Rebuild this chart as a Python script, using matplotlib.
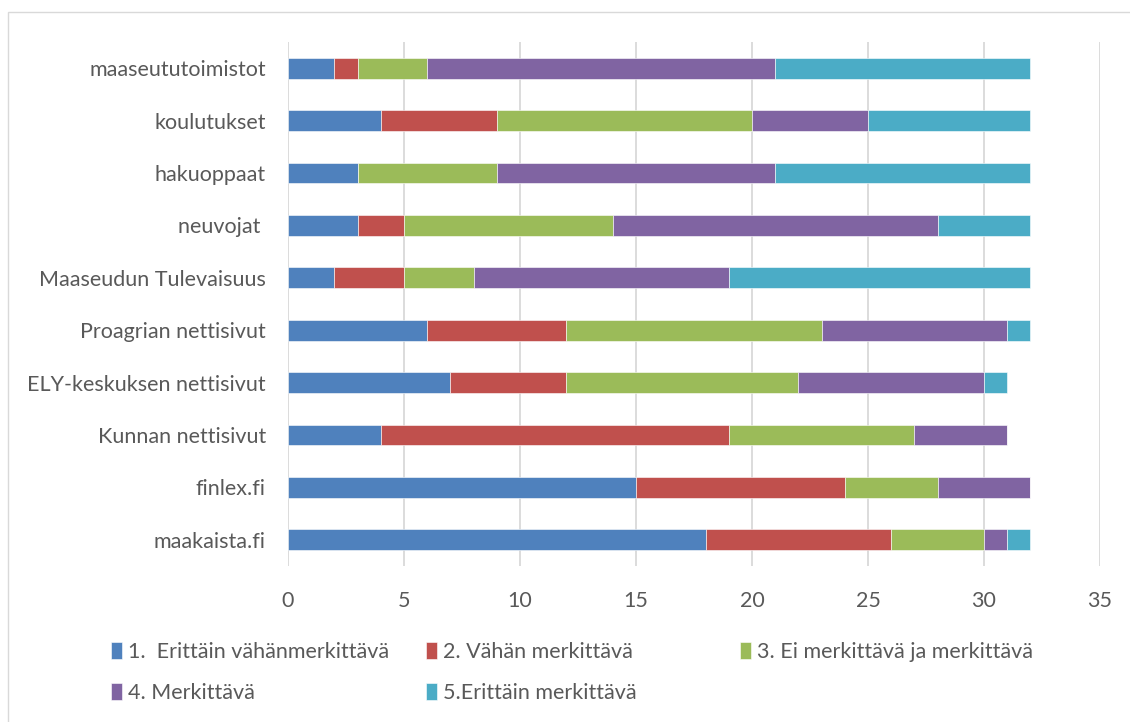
import numpy as np
import matplotlib.pyplot as plt
from matplotlib.patches import Rectangle

plt.rcParams['font.family'] = ['Lato', 'DejaVu Sans']

categories = ['maaseututoimistot', 'koulutukset', 'hakuoppaat', 'neuvojat ',
              'Maaseudun Tulevaisuus', 'Proagrian nettisivut',
              'ELY-keskuksen nettisivut', 'Kunnan nettisivut', 'finlex.fi',
              'maakaista.fi']
series_names = ['1.  Erittäin vähänmerkittävä', '2. Vähän merkittävä',
                '3. Ei merkittävä ja merkittävä', '4. Merkittävä',
                '5.Erittäin merkittävä']
v1 = [2, 4, 3, 3, 2, 6, 7, 4, 15, 18]
v2 = [1, 5, 0, 2, 3, 6, 5, 15, 9, 8]
v3 = [3, 11, 6, 9, 3, 11, 10, 8, 4, 4]
v4 = [15, 5, 12, 14, 11, 8, 8, 4, 4, 1]
v5 = [11, 7, 11, 4, 13, 1, 1, 0, 0, 1]
colors = ['#4F81BD', '#C0504D', '#9BBB59', '#8064A2', '#4BACC6']
xticks = [0, 5, 10, 15, 20, 25, 30, 35]

txt = '#595959'
fs = 15.5
fig = plt.figure(figsize=(11.3, 7.22), dpi=100)
ax = fig.add_axes([288/1130, 1-566/722, (1100-288)/1130, (566-42)/722])

y = np.arange(len(categories))
left = np.zeros(len(categories))
bars = []
for vals, c, name in zip([v1, v2, v3, v4, v5], colors, series_names):
    b = ax.barh(y, vals, left=left, height=0.4, color=c, edgecolor='white',
                linewidth=0.4, label=name, zorder=3)
    bars.append(b)
    left += np.array(vals)

ax.set_ylim(len(categories) - 0.5, -0.5)
ax.set_yticks(y)
ax.set_yticklabels(categories, fontsize=fs, color=txt)
ax.set_xlim(0, 35)
ax.set_xticks(xticks)
ax.set_xticklabels([str(t) for t in xticks], fontsize=fs, color=txt)
ax.tick_params(axis='x', length=0, pad=18)
ax.tick_params(axis='y', length=0, pad=16)
ax.grid(axis='x', color='#D9D9D9', linewidth=1.3, zorder=0)
for s in ax.spines.values():
    s.set_visible(False)

# legend, one entry per slot like Excel does it
slots = [(100, 652), (415, 652), (729, 652), (100, 693), (415, 693)]
for b, name, (px, py) in zip(bars, series_names, slots):
    lg = fig.legend([b], [name], loc='center left',
                    bbox_to_anchor=(px/1130, 1-py/722), frameon=False,
                    fontsize=fs, handlelength=0.5, handleheight=0.8,
                    handletextpad=0.3, borderpad=0)
    for t in lg.get_texts():
        t.set_color(txt)

fig.add_artist(Rectangle((8/1130, -0.1), 1.2, 1.1 - 12/722, transform=fig.transFigure,
                         fill=False, edgecolor='#D9D9D9', linewidth=1))

plt.savefig('out.png', dpi=100)
